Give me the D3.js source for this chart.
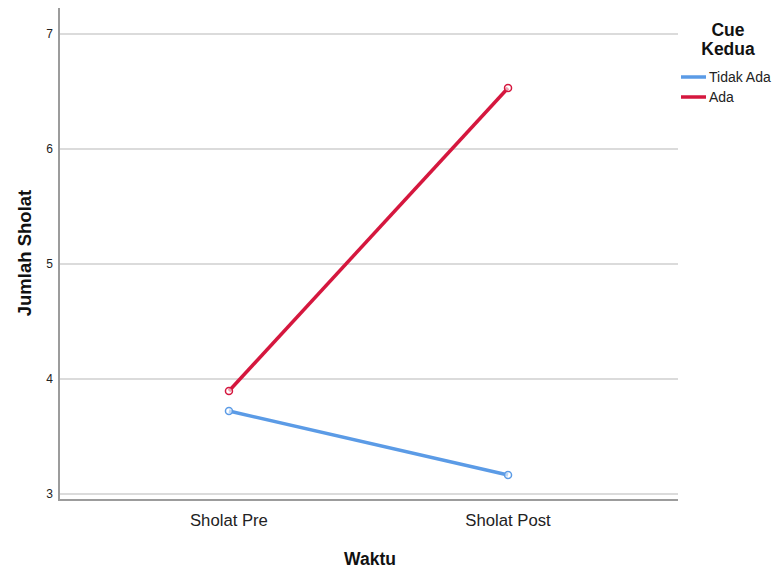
<!DOCTYPE html>
<html><head><meta charset="utf-8">
<script src="https://cdn.jsdelivr.net/npm/d3@7"></script>
<style>body{margin:0;background:#fff}svg{display:block;font-family:"Liberation Sans",Arial,sans-serif}</style>
</head><body><svg id="c" width="773" height="569"></svg>
<script>
const categories = ["Sholat Pre", "Sholat Post"];
const seriesNames = ["Tidak Ada", "Ada"];
const tidakAda = [3.722, 3.165];
const ada = [3.896, 6.53];
const yTicks = [3, 4, 5, 6, 7];
const colors = ["#5b9be6", "#d5173e"];

const svg = d3.select("#c");
const L = 59, R = 678, T = 8, B = 500;
const x = d3.scalePoint().domain(categories).range([L, R]).padding(0.609);
const y = d3.scaleLinear().domain([2.948, 7.226]).range([B, T]);

// gridlines
svg.append("g").selectAll("line").data(yTicks).join("line")
  .attr("x1", L).attr("x2", R).attr("y1", d => y(d)).attr("y2", d => y(d))
  .attr("stroke", "#cfcfcf").attr("stroke-width", 1.5);

// axes lines
svg.append("line").attr("x1", L).attr("x2", L).attr("y1", T).attr("y2", B + 1)
  .attr("stroke", "#9c9c9c").attr("stroke-width", 2);
svg.append("line").attr("x1", L).attr("x2", R).attr("y1", B).attr("y2", B)
  .attr("stroke", "#9c9c9c").attr("stroke-width", 2);

// y tick labels
svg.append("g").selectAll("text").data(yTicks).join("text")
  .attr("x", L - 6).attr("y", d => y(d) + 4).attr("text-anchor", "end")
  .attr("font-size", 12).attr("fill", "#222").text(d => d);

// x tick labels
svg.append("g").selectAll("text").data(categories).join("text")
  .attr("x", d => x(d)).attr("y", 526).attr("text-anchor", "middle")
  .attr("font-size", 16.7).attr("fill", "#222").text(d => d);

// axis titles
svg.append("text").attr("x", 370).attr("y", 565).attr("text-anchor", "middle")
  .attr("font-size", 17.5).attr("font-weight", "bold").attr("fill", "#111").text("Waktu");
svg.append("text").attr("transform", "translate(31,253) rotate(-90)").attr("text-anchor", "middle")
  .attr("font-size", 18.5).attr("font-weight", "bold").attr("fill", "#111").text("Jumlah Sholat");

// series
const data = [tidakAda, ada];
const line = d3.line().x((d, i) => x(categories[i])).y(d => y(d));
data.forEach((vals, si) => {
  svg.append("path").attr("d", line(vals)).attr("fill", "none")
    .attr("stroke", colors[si]).attr("stroke-width", 3.5);
  svg.append("g").selectAll("circle").data(vals).join("circle")
    .attr("cx", (d, i) => x(categories[i])).attr("cy", d => y(d)).attr("r", 3.5)
    .attr("fill", "#fff").attr("fill-opacity", 0.6).attr("stroke", colors[si]).attr("stroke-width", 1.5);
});

// legend
svg.append("text").attr("x", 728).attr("y", 36).attr("text-anchor", "middle")
  .attr("font-size", 17.5).attr("font-weight", "bold").attr("fill", "#111").text("Cue");
svg.append("text").attr("x", 728).attr("y", 55).attr("text-anchor", "middle")
  .attr("font-size", 17.5).attr("font-weight", "bold").attr("fill", "#111").text("Kedua");
seriesNames.forEach((n, i) => {
  const ly = 77 + i * 20;
  svg.append("line").attr("x1", 681).attr("x2", 706).attr("y1", ly).attr("y2", ly)
    .attr("stroke", colors[i]).attr("stroke-width", 3.5);
  svg.append("text").attr("x", 709).attr("y", ly + 5).attr("font-size", 14)
    .attr("fill", "#222").text(n);
});
</script></body></html>
